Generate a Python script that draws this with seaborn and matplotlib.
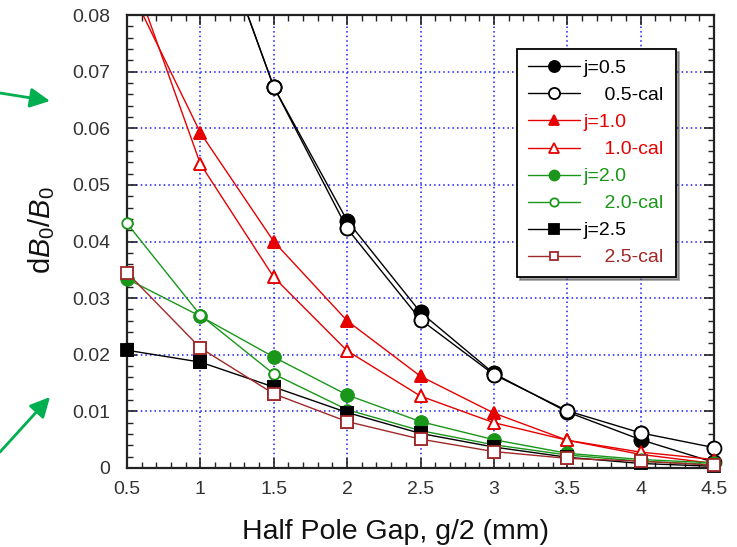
import numpy as np
import pandas as pd
import matplotlib
matplotlib.use("Agg")
import matplotlib.pyplot as plt
from matplotlib.patches import FancyArrowPatch
from matplotlib.ticker import MultipleLocator, FuncFormatter
import seaborn as sns

# ---- data ----
gap = [0.5, 1.0, 1.5, 2.0, 2.5, 3.0, 3.5, 4.0, 4.5]
j05 = [0.180, 0.103, 0.0673, 0.0437, 0.0275, 0.0167, 0.0099, 0.0050, 0.0010]
j05_cal = [0.180, 0.103, 0.0673, 0.0423, 0.0262, 0.0165, 0.0101, 0.0062, 0.0036]
j10 = [0.0858, 0.0592, 0.0400, 0.0260, 0.0162, 0.0097, 0.0049, 0.0024, 0.0008]
j10_cal = [0.0900, 0.0537, 0.0337, 0.0207, 0.0127, 0.0080, 0.0049, 0.0028, 0.0015]
j20 = [0.0334, 0.0268, 0.0196, 0.0129, 0.0082, 0.0050, 0.0026, 0.0015, 0.0009]
j20_cal = [0.0432, 0.0270, 0.0166, 0.0103, 0.0066, 0.0041, 0.0023, 0.0012, 0.0006]
j25 = [0.0208, 0.0187, 0.0143, 0.0098, 0.0061, 0.0037, 0.0019, 0.0008, 0.0003]
j25_cal = [0.0345, 0.0212, 0.0131, 0.0082, 0.0051, 0.0029, 0.0017, 0.0012, 0.0005]

labels = ["j=0.5", "    0.5-cal", "j=1.0", "    1.0-cal",
          "j=2.0", "    2.0-cal", "j=2.5", "    2.5-cal"]
series = [j05, j05_cal, j10, j10_cal, j20, j20_cal, j25, j25_cal]
x_range = [0.5, 4.5]
y_range = [0.0, 0.08]

RED = "#e60000"
GREEN = "#1a961a"
DRED = "#a02828"
colors = ["black", "black", RED, RED, GREEN, GREEN, "black", DRED]
markers = ["o", "o", "^", "^", "o", "o", "s", "s"]
filled = [True, False, True, False, True, False, True, False]
msizes = [10, 10, 9, 9, 9, 7.5, 8.5, 8]

sns.set_theme(style="white")
plt.rcParams["font.family"] = ["Liberation Sans", "DejaVu Sans"]
plt.rcParams["mathtext.fontset"] = "custom"
plt.rcParams["mathtext.rm"] = "Liberation Sans"
plt.rcParams["mathtext.it"] = "Liberation Sans:italic"

W, H = 737, 547
fig = plt.figure(figsize=(W / 100, H / 100), dpi=100)
L, R, T, B = 127, 714, 15, 468
ax = fig.add_axes([L / W, 1 - B / H, (R - L) / W, (B - T) / H])

for lab, vals, c, m, f, ms in zip(labels, series, colors, markers, filled, msizes):
    df = pd.DataFrame({"x": gap, "y": vals})
    style = dict(color=c, marker=m, markersize=ms,
                 markerfacecolor=(c if f else "white"),
                 markeredgecolor=c, markeredgewidth=1.3)
    # line (clipped at the frame)
    sns.lineplot(data=df, x="x", y="y", ax=ax, linewidth=1.0,
                 label=lab, **style)
    # markers inside the value range, drawn unclipped over the frame
    inside = df[(df.y >= y_range[0]) & (df.y <= y_range[1])]
    sns.lineplot(data=inside, x="x", y="y", ax=ax, linestyle="",
                 legend=False, clip_on=False, zorder=5, **style)

ax.set_xlim(*x_range)
ax.set_ylim(*y_range)
ax.xaxis.set_major_locator(MultipleLocator(0.5))
ax.xaxis.set_minor_locator(MultipleLocator(0.1))
ax.yaxis.set_major_locator(MultipleLocator(0.01))
ax.yaxis.set_minor_locator(MultipleLocator(0.002))
ax.xaxis.set_major_formatter(FuncFormatter(lambda v, p: f"{v:g}"))
ax.yaxis.set_major_formatter(FuncFormatter(lambda v, p: "0" if abs(v) < 1e-9 else f"{v:.2f}"))
ax.tick_params(which="both", direction="in", top=True, right=True,
               bottom=True, left=True, colors="#222222", labelsize=14,
               labelcolor="#333333")
ax.tick_params(which="major", length=7, width=1.2)
ax.tick_params(which="minor", length=4.5, width=1.0)
ax.tick_params(axis="x", which="major", pad=9)
ax.tick_params(axis="y", which="major", pad=12)
ax.grid(True, which="major", color="#1a1aff", linestyle=(0, (1, 2)), linewidth=1.1)
for s in ax.spines.values():
    s.set_color("#222222")
    s.set_linewidth(1.6)

ax.set_xlabel("Half Pole Gap, g/2 (mm)", fontsize=20.5, color="#111111")
ax.xaxis.set_label_coords((395 - L) / (R - L), (B - 519) / (B - T))
ax.set_ylabel(r"d$\mathit{B}_0$/$\mathit{B}_0$", fontsize=21, color="#111111")
ax.yaxis.set_label_coords((57 - L) / (R - L), (B - 230) / (B - T))

# legend box: x 517..676, y 49..277 (figure pixels)
LX0, LX1, LY0, LY1 = 517, 676, 49, 277
FS = 14


def make_legend(spacing):
    lg = ax.legend(loc="upper left",
                   bbox_to_anchor=((LX0 - L) / (R - L), (B - LY0) / (B - T),
                                   (LX1 - LX0) / (R - L), 0),
                   mode="expand", fontsize=FS, frameon=True, fancybox=False,
                   shadow=True, edgecolor="black", handlelength=2.7,
                   handletextpad=0.15, labelspacing=spacing, borderpad=0.55,
                   borderaxespad=0, framealpha=1, markerscale=0.8)
    lg.get_frame().set_linewidth(1.3)
    lg.set_zorder(10)
    for t, c in zip(lg.get_texts(), colors):
        t.set_color(c)
    return lg


spacing = 0.5
leg = make_legend(spacing)
fig.canvas.draw()
h = leg.get_frame().get_window_extent().height
spacing += ((LY1 - LY0) - h) / (7 * FS * 100 / 72)
leg = make_legend(spacing)

# green arrows at the left margin
for (x0, y0), (x1, y1) in [((0, 93), (50, 101)), ((0, 452), (50, 397))]:
    fig.add_artist(FancyArrowPatch((x0, H - y0), (x1, H - y1), transform=None,
                                   arrowstyle="-|>,head_length=0.6,head_width=0.3",
                                   mutation_scale=20, color="#00b050",
                                   linewidth=2.0, shrinkA=0, shrinkB=0))

fig.savefig("out.png", dpi=100)
